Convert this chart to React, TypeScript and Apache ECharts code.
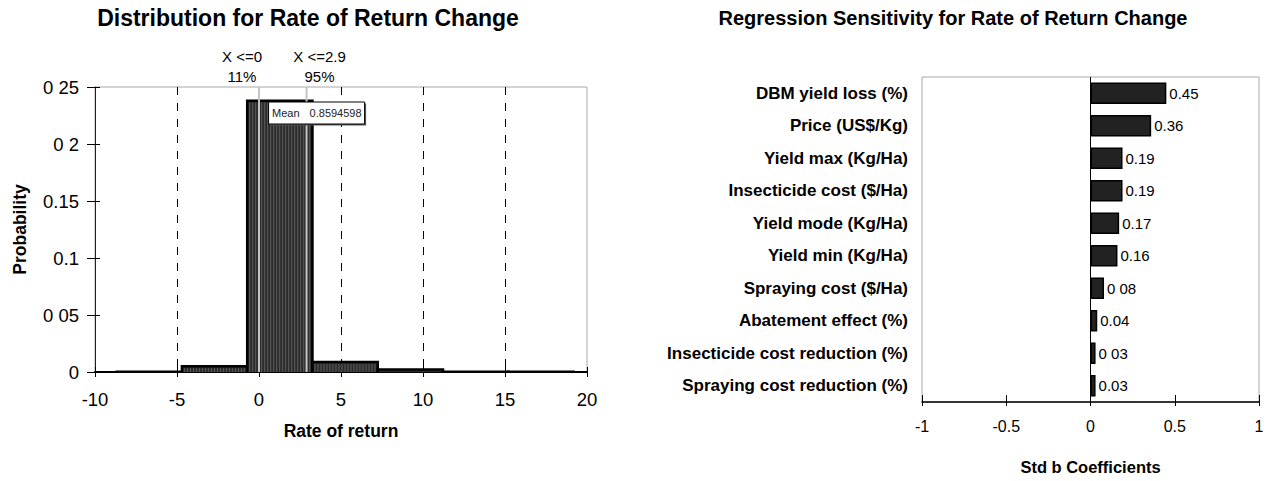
import React, { useEffect, useRef } from 'react';
import * as echarts from 'echarts';

// ---------- Left chart: distribution ----------
const histTitle = 'Distribution for Rate of Return Change';
const binStarts = [-8.68, -4.7, -0.72, 3.26, 7.24, 11.22, 15.2];
const binEnds = [-4.7, -0.72, 3.26, 7.24, 11.22, 15.2, 19.18];
const binProb = [0.0003, 0.005, 0.238, 0.0088, 0.0021, 0.0003, 0.0002];
const probTickLabels = ['0', '0 05', '0.1', '0.15', '0 2', '0 25'];
const markerValues = [0, 2.9];
const markerTopLabels = ['X <=0', 'X <=2.9'];
const markerBottomLabels = ['11%', '95%'];
const meanValue = 0.8594598;
const meanLabel = '0.8594598';

// ---------- Right chart: regression sensitivity ----------
const sensTitle = 'Regression Sensitivity for Rate of Return Change';
const sensCategories = [
  'DBM yield loss (%)',
  'Price (US$/Kg)',
  'Yield max (Kg/Ha)',
  'Insecticide cost ($/Ha)',
  'Yield mode (Kg/Ha)',
  'Yield min (Kg/Ha)',
  'Spraying cost ($/Ha)',
  'Abatement effect (%)',
  'Insecticide cost reduction (%)',
  'Spraying cost reduction (%)',
];
const sensValues = [0.45, 0.36, 0.19, 0.19, 0.17, 0.16, 0.08, 0.04, 0.03, 0.03];
const sensLabels = ['0.45', '0.36', '0.19', '0.19', '0.17', '0.16', '0 08', '0.04', '0 03', '0.03'];

const FONT = 'Liberation Sans, Arial, Helvetica, sans-serif';

export default function App() {
  const ref = useRef<HTMLDivElement>(null);

  useEffect(() => {
    document.body.style.margin = '0';
    const chart = echarts.init(ref.current!, null, { renderer: 'svg' });

    const histData = binStarts.map((s, i) => [s, binEnds[i], binProb[i]]);

    const option: any = {
      animation: false,
      backgroundColor: '#fff',
      textStyle: { fontFamily: FONT, color: '#000' },
      grid: [
        { left: 95, width: 492, top: 87, height: 285, show: true, borderColor: '#a8a8a8', borderWidth: 1, backgroundColor: 'transparent' },
        { left: 922, width: 337, top: 77, height: 325, show: true, borderColor: '#a8a8a8', borderWidth: 1, backgroundColor: 'transparent' },
      ],
      xAxis: [
        {
          gridIndex: 0, type: 'value', min: -10, max: 20, interval: 5, position: 'bottom',
          axisLine: { show: true, onZero: false, lineStyle: { color: '#000', width: 2 } },
          axisTick: { show: true, length: 5, lineStyle: { color: '#000', width: 1 } },
          axisLabel: { fontSize: 18.5, color: '#000', fontFamily: FONT, margin: 18 },
          splitLine: { show: true, showMinLine: false, showMaxLine: false, lineStyle: { color: '#000', width: 1, type: [8, 8] } },
          name: 'Rate of return', nameLocation: 'middle', nameGap: 50,
          nameTextStyle: { fontSize: 17.5, fontWeight: 'bold', color: '#000', fontFamily: FONT },
        },
        {
          gridIndex: 0, type: 'value', min: -10, max: 20, interval: 5, position: 'bottom',
          axisLine: { show: false, onZero: false },
          axisTick: { show: true, inside: true, length: 5, lineStyle: { color: '#000', width: 1 } },
          axisLabel: { show: false }, splitLine: { show: false },
        },
        {
          gridIndex: 1, type: 'value', min: -1, max: 1, interval: 0.5, position: 'bottom',
          axisLine: { show: true, onZero: false, lineStyle: { color: '#000', width: 1.5 } },
          axisTick: { show: true, length: 4, lineStyle: { color: '#000', width: 1 } },
          axisLabel: { fontSize: 16, color: '#000', fontFamily: FONT, margin: 16 },
          splitLine: { show: false },
          name: 'Std b Coefficients', nameLocation: 'middle', nameGap: 56,
          nameTextStyle: { fontSize: 16.5, fontWeight: 'bold', color: '#000', fontFamily: FONT },
        },
        {
          gridIndex: 1, type: 'value', min: -1, max: 1, interval: 0.5, position: 'bottom',
          axisLine: { show: false, onZero: false },
          axisTick: { show: true, inside: true, length: 7, lineStyle: { color: '#000', width: 1 } },
          axisLabel: { show: false }, splitLine: { show: false },
        },
      ],
      yAxis: [
        {
          gridIndex: 0, type: 'value', min: 0, max: 0.25, interval: 0.05, position: 'left',
          axisLine: { show: true, onZero: false, lineStyle: { color: '#222', width: 1 } },
          axisTick: { show: true, length: 8, lineStyle: { color: '#000', width: 1 } },
          axisLabel: {
            fontSize: 18.5, color: '#000', fontFamily: FONT, margin: 16,
            formatter: (v: number) => probTickLabels[Math.round(v / 0.05)] ?? '',
          },
          splitLine: { show: false },
          name: 'Probability', nameLocation: 'middle', nameGap: 66,
          nameTextStyle: { fontSize: 17.5, fontWeight: 'bold', color: '#000', fontFamily: FONT },
        },
        {
          gridIndex: 0, type: 'value', min: 0, max: 0.25, interval: 0.05, position: 'left',
          axisLine: { show: false, onZero: false },
          axisTick: { show: true, inside: true, length: 5, lineStyle: { color: '#000', width: 1 } },
          axisLabel: { show: false }, splitLine: { show: false },
        },
        {
          gridIndex: 1, type: 'category', data: sensCategories, inverse: true, position: 'left',
          axisLine: { show: false, onZero: false },
          axisTick: { show: false },
          axisLabel: { fontSize: 17, fontWeight: 'bold', color: '#000', fontFamily: FONT, margin: 14 },
          splitLine: { show: false },
        },
      ],
      series: [
        {
          type: 'custom',
          xAxisIndex: 0, yAxisIndex: 0,
          data: histData,
          encode: { x: [0, 1], y: 2 },
          clip: true,
          renderItem: (params: any, api: any) => {
            const s = api.value(0), e = api.value(1), p = api.value(2);
            const p0 = api.coord([s, 0]);
            const p1 = api.coord([e, p]);
            const x = p0[0], w = p1[0] - p0[0], y = p1[1], h = p0[1] - p1[1];
            const children: any[] = [
              { type: 'rect', shape: { x, y, width: w, height: h }, style: { fill: '#2b2b2b', stroke: null } },
            ];
            if (h > 4) {
              for (let sx = x + 2.5; sx < x + w - 1.5; sx += 3) {
                children.push({ type: 'line', shape: { x1: sx, y1: y + 2, x2: sx, y2: y + h }, style: { stroke: '#6b6b6b', lineWidth: 0.8 } });
              }
            }
            children.push({
              type: 'polyline',
              shape: { points: [[x, y + h], [x, y], [x + w, y], [x + w, y + h]] },
              style: { stroke: '#000', lineWidth: 2.5, fill: null },
            });
            return { type: 'group', children };
          },
        },
        {
          type: 'bar',
          xAxisIndex: 2, yAxisIndex: 2,
          data: sensValues,
          barWidth: '66%',
          itemStyle: { color: '#222', borderColor: '#000', borderWidth: 1.5 },
          label: {
            show: true, position: 'right', distance: 3, fontSize: 15, color: '#000', fontFamily: FONT,
            formatter: (p: any) => sensLabels[p.dataIndex],
          },
          markLine: {
            silent: true, symbol: 'none',
            label: { show: false },
            lineStyle: { color: '#000', width: 1, type: 'solid' },
            data: [{ xAxis: 0 }],
          },
        },
      ],
    };

    chart.setOption(option);

    // annotations placed through the chart's own scale
    const top = chart.convertToPixel({ gridIndex: 0 }, [0, 0.25]) as number[];
    const bottom = chart.convertToPixel({ gridIndex: 0 }, [0, 0]) as number[];
    const graphics: any[] = [
      {
        type: 'text', z: 100,
        style: { x: 308, y: 18, text: histTitle, align: 'center', verticalAlign: 'middle', fontSize: 23, fontWeight: 'bold', fontFamily: FONT, fill: '#000' },
      },
      {
        type: 'text', z: 100,
        style: { x: 953, y: 18, text: sensTitle, align: 'center', verticalAlign: 'middle', fontSize: 20, fontWeight: 'bold', fontFamily: FONT, fill: '#000' },
      },
    ];
    const offsets = [-17, 13];
    markerValues.forEach((mv, i) => {
      const px = (chart.convertToPixel({ gridIndex: 0 }, [mv, 0]) as number[])[0];
      graphics.push({
        type: 'line', z: 100,
        shape: { x1: px, y1: top[1], x2: px, y2: bottom[1] },
        style: { stroke: '#c4c4c4', lineWidth: 2 },
      });
      graphics.push({
        type: 'text', z: 100,
        style: { x: px + offsets[i], y: 56, text: markerTopLabels[i], align: 'center', verticalAlign: 'middle', fontSize: 15, fontFamily: FONT, fill: '#000' },
      });
      graphics.push({
        type: 'text', z: 100,
        style: { x: px + offsets[i], y: 76, text: markerBottomLabels[i], align: 'center', verticalAlign: 'middle', fontSize: 15, fontFamily: FONT, fill: '#000' },
      });
    });
    const meanPx = (chart.convertToPixel({ gridIndex: 0 }, [meanValue, 0]) as number[])[0];
    const bx = meanPx - 4.5, by = top[1] + 15, bw = 96, bh = 22;
    graphics.push({ type: 'rect', z: 101, shape: { x: bx + 1.5, y: by + 1.5, width: bw, height: bh }, style: { fill: '#555' } });
    graphics.push({ type: 'rect', z: 102, shape: { x: bx, y: by, width: bw, height: bh }, style: { fill: '#fff', stroke: '#000', lineWidth: 1 } });
    graphics.push({
      type: 'text', z: 103,
      style: { x: bx + 3.5, y: by + bh / 2, text: 'Mean', align: 'left', verticalAlign: 'middle', fontSize: 11, fontFamily: FONT, fill: '#222' },
    });
    graphics.push({
      type: 'text', z: 103,
      style: { x: bx + bw - 3, y: by + bh / 2, text: meanLabel, align: 'right', verticalAlign: 'middle', fontSize: 11, fontFamily: FONT, fill: '#222' },
    });
    chart.setOption({ graphic: graphics });

    return () => chart.dispose();
  }, []);

  return <div ref={ref} style={{ width: 1269, height: 481 }} />;
}
